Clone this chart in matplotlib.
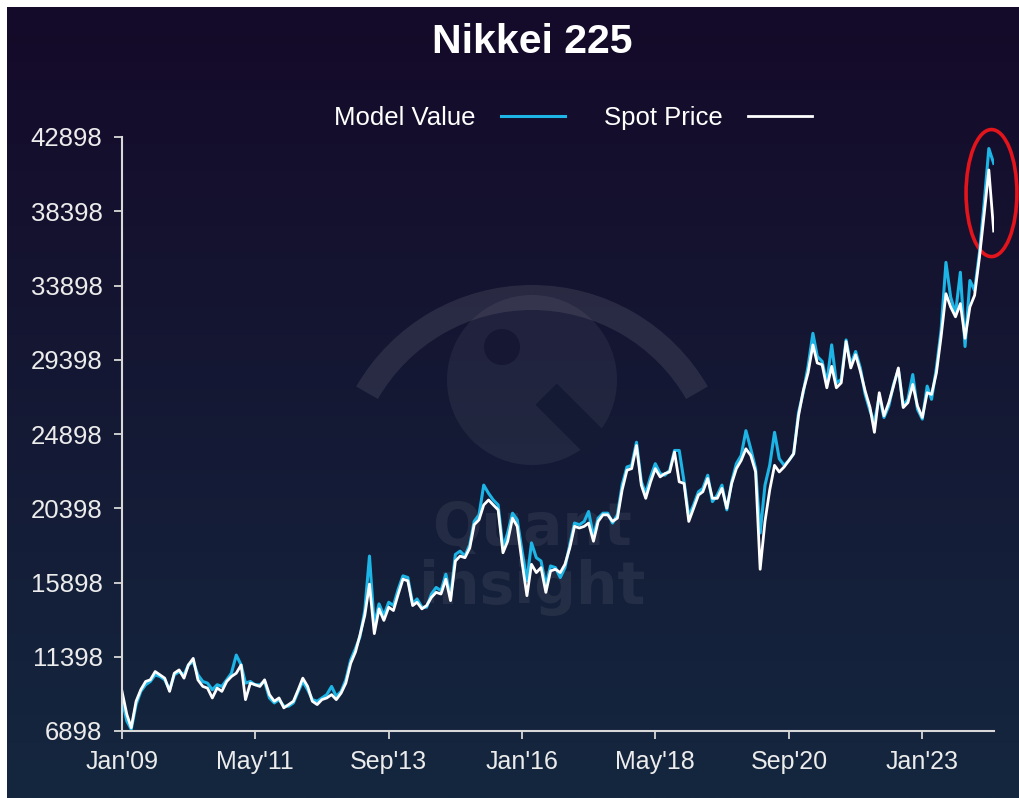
import numpy as np
import pandas as pd
import matplotlib
matplotlib.use("Agg")
import matplotlib.pyplot as plt
import matplotlib.dates as mdates
from matplotlib import patches

# Monthly readings, Jan 2009 .. Apr 2024
spot_price = [
    9300, 7900, 7100, 8700, 9400, 9900, 10000, 10500, 10300, 10100, 9300, 10400,      # 2009
    10600, 10100, 10900, 11300, 10000, 9600, 9500, 8900, 9500, 9300, 9900, 10200,     # 2010
    10400, 10900, 8800, 9800, 9700, 9600, 10000, 9100, 8700, 8900, 8300, 8500,        # 2011
    8700, 9400, 10100, 9600, 8700, 8500, 8800, 8900, 9100, 8800, 9200, 9800,         # 2012
    11000, 11700, 12700, 13900, 15800, 12800, 14300, 13600, 14400, 14200, 15200, 16100,  # 2013
    16000, 14500, 14700, 14300, 14500, 15000, 15300, 15200, 16100, 14800, 17200, 17500,  # 2014
    17400, 18000, 19400, 19700, 20600, 20900, 20600, 20300, 17700, 18400, 19800, 19300,  # 2015
    17100, 15100, 17000, 16500, 16800, 15300, 16600, 16700, 16500, 17000, 18000, 19300,  # 2016
    19200, 19300, 19500, 18400, 19600, 20000, 20000, 19600, 19800, 21500, 22700, 22800,  # 2017
    24200, 21800, 21000, 22000, 22800, 22300, 22500, 22600, 23800, 22000, 21900, 19600,  # 2018
    20400, 21200, 21400, 22200, 21000, 21000, 21600, 20400, 21900, 22800, 23300, 24000,  # 2019
    23600, 22600, 16700, 19600, 21500, 23000, 22600, 22900, 23300, 23700, 26000, 27500,  # 2020
    28600, 30300, 29200, 29100, 27700, 29000, 27700, 28000, 30500, 28900, 29700, 28700,  # 2021
    27500, 26500, 25000, 27400, 26000, 26800, 27800, 28900, 26500, 26800, 27900, 26600,  # 2022
    25900, 27400, 27300, 28600, 30800, 33400, 32600, 32000, 32800, 30700, 32600, 33300,  # 2023
    35600, 38300, 40900, 37200,                                                        # 2024
]
model_value = [
    8800, 7500, 7000, 8500, 9300, 9700, 9900, 10300, 10200, 10000, 9400, 10300,       # 2009
    10500, 10300, 10900, 11100, 10300, 9900, 9800, 9400, 9700, 9600, 10000, 10400,    # 2010
    11500, 10900, 9800, 9900, 9700, 9700, 9900, 8900, 8600, 8800, 8400, 8400,         # 2011
    8600, 9300, 9900, 9400, 8800, 8700, 8900, 9100, 9600, 9000, 9300, 10000,          # 2012
    11200, 11900, 12600, 14200, 17500, 13300, 14600, 13900, 14700, 14500, 15500, 16300,  # 2013
    16200, 14600, 14900, 14400, 14400, 15200, 15600, 15400, 16400, 15000, 17600, 17800,  # 2014
    17500, 18200, 19600, 20000, 21800, 21300, 20900, 20600, 18000, 18900, 20100, 19700,  # 2015
    17800, 16000, 18300, 17400, 17200, 15700, 16900, 16800, 16200, 16800, 18200, 19500,  # 2016
    19400, 19600, 20200, 18700, 19800, 20100, 20100, 19500, 20000, 21800, 22900, 23000,  # 2017
    24400, 22000, 21300, 22300, 23100, 22500, 22400, 22700, 23900, 23900, 22000, 19900,  # 2018
    20600, 21400, 21600, 22400, 20800, 21200, 21800, 20300, 22000, 23100, 23600, 25100,  # 2019
    24000, 22800, 18900, 21800, 23000, 25000, 23400, 23000, 23300, 23700, 26200, 27400,  # 2020
    29000, 31000, 29600, 29300, 28000, 30300, 28000, 28200, 30600, 29100, 29900, 28900,  # 2021
    27300, 26300, 25600, 27200, 25900, 26600, 27900, 28800, 26600, 27000, 28500, 26400,  # 2022
    25800, 27800, 27000, 28900, 31200, 35300, 33200, 32200, 34700, 30200, 34200, 33600,  # 2023
    35900, 39000, 42200, 41300,                                                        # 2024
]
dates = pd.date_range("2009-01-01", periods=len(spot_price), freq="MS")

y_ticks = [6898, 11398, 15898, 20398, 24898, 29398, 33898, 38398, 42898]
x_tick_dates = pd.to_datetime(["2009-01-01", "2011-05-01", "2013-09-01", "2016-01-01",
                               "2018-05-01", "2020-09-01", "2023-01-01"])
x_tick_labels = ["Jan'09", "May'11", "Sep'13", "Jan'16", "May'18", "Sep'20", "Jan'23"]

W, H = 1020, 798
TOP_COL = np.array([21, 10, 41]) / 255
BOT_COL = np.array([20, 39, 63]) / 255
CYAN = "#1db4e6"
AXIS_COL = "#d8d8d8"
plt.rcParams["font.family"] = ["Liberation Sans", "DejaVu Sans"]


def bg_at(y_px):
    t = y_px / H
    return tuple(TOP_COL + (BOT_COL - TOP_COL) * t)


fig = plt.figure(figsize=(W / 100, H / 100), dpi=100, facecolor="white")

# gradient background, leaves a thin white strip top and left
bg = fig.add_axes([7 / W, 0, 1 - 7 / W, 1 - 7 / H])
t = np.linspace(0, 1, 400)[:, None, None]
grad = TOP_COL[None, None, :] + (BOT_COL - TOP_COL)[None, None, :] * t
bg.imshow(grad, aspect="auto", extent=[0, 1, 0, 1], origin="upper")
bg.axis("off")

# faint watermark, in pixel coordinates (y flipped so up is up)
wm = fig.add_axes([0, 0, 1, 1])
wm.set_xlim(0, W)
wm.set_ylim(0, H)
wm.axis("off")
wm.patch.set_alpha(0)
wm.add_patch(patches.Wedge((532, H - 488), 203, 30, 150, width=25,
                           facecolor="white", alpha=0.09, lw=0))
wm.add_patch(patches.Circle((532, H - 380), 85, facecolor="white", alpha=0.06, lw=0))
wm.add_patch(patches.Circle((502, H - 347), 18, facecolor=bg_at(347), lw=0))
d = np.array([1, -1]) / np.sqrt(2)
n = np.array([1, 1]) / np.sqrt(2)
c0 = np.array([532, H - 380])
bar = [c0 + d * 20 + n * 15, c0 + d * 92 + n * 15, c0 + d * 92 - n * 15, c0 + d * 20 - n * 15]
wm.add_patch(patches.Polygon(bar, closed=True, facecolor=bg_at(415), lw=0))
wm.text(532, H - 528, "Quant", ha="center", va="center", fontsize=42,
        fontweight="bold", family="DejaVu Sans", color="white", alpha=0.07)
wm.text(532, H - 588, "insight", ha="center", va="center", fontsize=42,
        fontweight="bold", family="DejaVu Sans", color="white", alpha=0.07)

# main chart
ax = fig.add_axes([122 / W, 1 - 731 / H, (994 - 122) / W, (731 - 137) / H])
ax.patch.set_alpha(0)
ax.plot(dates, model_value, color=CYAN, lw=2.2, label="Model Value")
ax.plot(dates, spot_price, color="white", lw=2.0, label="Spot Price")

ax.set_ylim(y_ticks[0], y_ticks[-1])
ax.set_yticks(y_ticks)
ax.set_xlim(pd.Timestamp("2009-01-01"), pd.Timestamp("2024-04-03"))
ax.set_xticks(x_tick_dates)
ax.set_xticklabels(x_tick_labels)

for s in ["top", "right"]:
    ax.spines[s].set_visible(False)
for s in ["left", "bottom"]:
    ax.spines[s].set_color(AXIS_COL)
    ax.spines[s].set_linewidth(1.5)
ax.tick_params(colors=AXIS_COL, length=6, width=1.3, labelsize=18.5, pad=8,
               labelcolor="#ececec")
ax.tick_params(axis="x", labelsize=18)

# red highlight around the latest move
ell = patches.Ellipse((mdates.date2num(pd.Timestamp("2024-03-18")), 39500), 325, 7700,
                      fill=False, edgecolor="#e3141b", lw=2.6, clip_on=False)
ax.add_patch(ell)

leg = ax.legend(loc="center", bbox_to_anchor=(573 / W, 1 - 118 / H),
                bbox_transform=fig.transFigure, ncol=2, frameon=False,
                markerfirst=False, handlelength=2.5, columnspacing=1.5,
                handletextpad=1.0, fontsize=18.5, labelcolor="white")

fig.text(532 / W, 1 - 42 / H, "Nikkei 225", ha="center", va="center",
         color="white", fontsize=29.5, fontweight="bold")

fig.savefig("out.png", dpi=100, facecolor=fig.get_facecolor())
